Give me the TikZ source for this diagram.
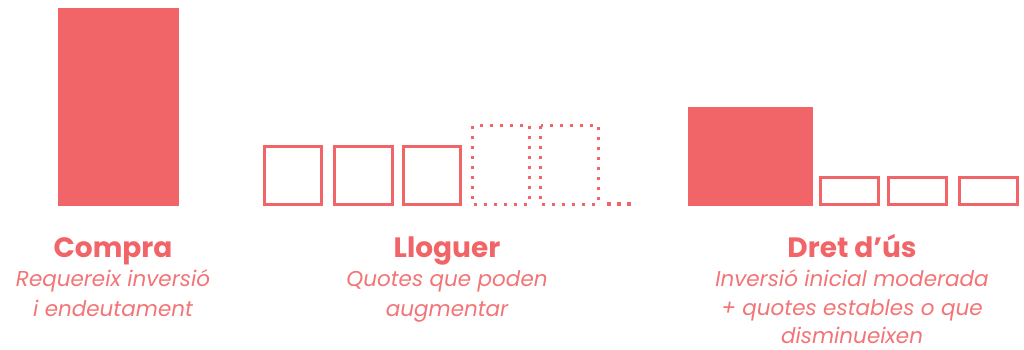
\documentclass[tikz,border=0pt]{standalone}
\usepackage{fontspec}
\setmainfont{Poppins}
\definecolor{rd}{HTML}{F16467}
\begin{document}
\begin{tikzpicture}[x=1pt,y=-1pt,
  solidbox/.style={fill=rd, draw=none},
  openbox/.style={draw=rd, line width=3pt},
  dotbox/.style={draw=rd, line width=3pt, dash pattern=on 3pt off 7pt},
  title/.style={text=rd, font=\fontsize{28}{32}\selectfont\bfseries, anchor=base},
  sub/.style={text=rd!90, font=\fontsize{21.5}{30}\selectfont\itshape, anchor=base}]
\useasboundingbox (0,0) rectangle (1024,350);
% Compra
\path[solidbox] (58,8) rectangle (179,206);
% Lloguer
\draw[openbox] (264.5,146.5) rectangle (321.5,204.5);
\draw[openbox] (334.5,146.5) rectangle (392.5,204.5);
\draw[openbox] (403.5,146.5) rectangle (460.5,204.5);
\draw[dotbox] (472.5,125.5) rectangle (529,204);
\draw[dotbox] (540.5,125.5) rectangle (598,204);
\fill[rd] (607,202) rectangle (611,206);
\fill[rd] (617,202) rectangle (621,206);
\fill[rd] (627,202) rectangle (631,206);
% Dret d'us
\path[solidbox] (688,107) rectangle (813,206);
\draw[openbox] (820.5,177.5) rectangle (878.5,204.5);
\draw[openbox] (888.5,177.5) rectangle (946.5,204.5);
\draw[openbox] (959.5,177.5) rectangle (1017.5,204.5);
% texts
\node[title] (t1) at (113,257) {Compra};
\node[sub] (s1a) at (113,286) {Requereix inversió};
\node[sub] (s1b) at (113,316) {i endeutament};
\node[title] (t2) at (447,257) {Lloguer};
\node[sub] (s2a) at (447,286) {Quotes que poden};
\node[sub] (s2b) at (447,316) {augmentar};
\node[title] (t3) at (852,257) {Dret d’ús};
\node[sub] (s3a) at (852,286) {Inversió inicial moderada};
\node[sub] (s3b) at (852,315) {+ quotes estables o que};
\node[sub] (s3c) at (852,343) {disminueixen};
\end{tikzpicture}
\end{document}
